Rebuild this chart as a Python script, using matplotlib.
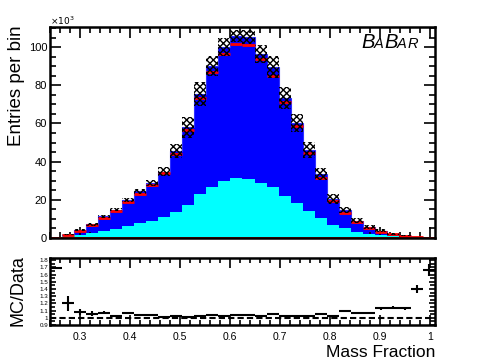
import numpy as np
import matplotlib
matplotlib.use("Agg")
import matplotlib.pyplot as plt
from matplotlib.ticker import MultipleLocator, FixedLocator, FixedFormatter

# ---------------- data (counts in units of 10^3 per bin) ----------------
bin_lo, bin_hi, n_bins = 0.24, 1.01, 32

data = [0.10, 1.5, 3.8, 6.6, 10.6, 14.3, 18.7, 23.2, 27.7, 33.9,
        43.8, 56.5, 73.1, 86.7, 96.5, 101.6, 101.0, 93.8, 84.8, 71.3,
        58.6, 44.4, 31.4, 19.6, 13.3, 8.4, 5.4, 3.3, 2.0, 1.0,
        0.4, 0.1]

mc_total = [0.17, 1.8, 4.2, 7.1, 11.4, 14.9, 20.0, 24.4, 28.9, 34.8,
            45.5, 57.9, 75.3, 90.2, 100.0, 105.9, 105.3, 96.4, 89.5, 73.4,
            60.4, 46.1, 33.5, 20.4, 14.7, 9.1, 5.9, 3.8, 2.3, 1.15,
            0.55, 0.17]

mc_syst = [0.02, 0.3, 0.5, 0.6, 0.8, 0.9, 1.0, 1.3, 1.7, 2.4,
           3.7, 5.7, 6.3, 5.2, 4.5, 3.0, 3.5, 4.7, 5.8, 5.7,
           4.8, 4.2, 3.0, 2.6, 1.7, 1.3, 1.0, 0.8, 0.5, 0.3,
           0.2, 0.05]

cyan_comp = [0.05, 0.8, 1.4, 2.4, 3.7, 4.8, 6.1, 7.8, 9.1, 10.8,
             13.8, 17.5, 22.8, 26.9, 29.8, 31.6, 31.0, 28.8, 26.9, 21.9,
             18.2, 14.1, 10.3, 6.8, 5.0, 3.3, 2.1, 1.4, 0.9, 0.5,
             0.2, 0.05]

other_comp = [0.0, 0.3, 0.4, 0.5, 0.5, 0.5, 0.6, 0.6, 0.6, 0.6,
              0.6, 0.6, 0.6, 0.6, 0.6, 0.6, 0.6, 0.6, 0.6, 0.6,
              0.6, 0.6, 0.5, 0.5, 0.5, 0.4, 0.4, 0.3, 0.3, 0.2,
              0.1, 0.0]

ratio = [1.69, 1.20, 1.085, 1.053, 1.07, 1.03, 1.06, 1.043, 1.035, 1.015,
         1.03, 1.015, 1.025, 1.035, 1.03, 1.035, 1.035, 1.02, 1.05, 1.025,
         1.025, 1.03, 1.057, 1.03, 1.10, 1.07, 1.07, 1.13, 1.14, 1.13,
         1.40, 1.66]

ratio_err = [0.0, 0.10, 0.04, 0.035, 0.02, 0.01, 0.01, 0.008, 0.006, 0.006,
             0.005, 0.005, 0.004, 0.004, 0.004, 0.004, 0.004, 0.004, 0.004, 0.005,
             0.005, 0.006, 0.008, 0.01, 0.01, 0.012, 0.015, 0.015, 0.02, 0.02,
             0.06, 0.08]

ratio_ticks = [0.9, 1.0, 1.1, 1.2, 1.3, 1.4, 1.5, 1.6, 1.7, 1.8]
ratio_ticklabels = ["0.9", "1", "1.1", "1.2", "1.3", "1.4", "1.5", "1.6", "1.7", "1.8"]
x_ticks = [0.3, 0.4, 0.5, 0.6, 0.7, 0.8, 0.9, 1.0]
x_ticklabels = ["0.3", "0.4", "0.5", "0.6", "0.7", "0.8", "0.9", "1"]
y_ticks = [0, 20, 40, 60, 80, 100]

# ---------------- figure ----------------
plt.rcParams['font.family'] = ['Liberation Sans', 'DejaVu Sans']
plt.rcParams['hatch.linewidth'] = 1.0

W, H = 485, 360
fig = plt.figure(figsize=(W / 100, H / 100), dpi=100)

def fx(px):
    return px / W

def fy(py):
    return 1 - py / H

ax = fig.add_axes([fx(50), fy(238), fx(385), 211 / H])
axr = fig.add_axes([fx(50), fy(325), fx(385), 67 / H])

edges = np.linspace(bin_lo, bin_hi, n_bins + 1)
centers = 0.5 * (edges[:-1] + edges[1:])
bw = edges[1] - edges[0]
data = np.array(data)
mc_total = np.array(mc_total)
mc_syst = np.array(mc_syst)

# stacked MC
ax.stairs(mc_total, edges, fill=True, color='#0000ff', zorder=1)
ax.stairs(mc_total, edges, color='#3030ff', lw=0.8, zorder=1.1)
ax.stairs(cyan_comp, edges, fill=True, color='#00ffff', zorder=2)
ax.stairs(other_comp, edges, fill=True, color='#ff66cc', zorder=3)
ax.stairs(other_comp, edges, color='#c8e000', lw=0.7, zorder=3.1)

# data
ax.hlines(data, edges[:-1], edges[1:], colors='red', lw=2.0, zorder=4)
ax.axhline(0, color='#c00000', lw=2.0, zorder=4)

# syst band on MC
ax.bar(centers, 2 * mc_syst, bottom=mc_total - mc_syst, width=bw,
       facecolor='none', edgecolor='black', hatch='xxxxx', linewidth=0, zorder=5)

ax.set_xlim(bin_lo, bin_hi)
ax.set_ylim(0, 110.5)

for a in (ax, axr):
    for s in a.spines.values():
        s.set_linewidth(1.8)
        s.set_zorder(10)

ax.yaxis.set_major_locator(FixedLocator(y_ticks))
ax.yaxis.set_minor_locator(MultipleLocator(5))
ax.xaxis.set_major_locator(FixedLocator(x_ticks))
ax.xaxis.set_minor_locator(MultipleLocator(0.02))
ax.tick_params(which='both', direction='in', top=True, right=True,
               labelbottom=False, width=1.2)
ax.tick_params(which='major', length=8)
ax.tick_params(which='minor', length=4.5)
ax.tick_params(axis='y', labelsize=8, pad=2)

fig.text(fx(50), fy(25), r'$\times10^{3}$', fontsize=6.5, ha='left', va='baseline')

# axis titles
fig.text(fx(17), fy(25), 'Entries per bin', rotation=90, ha='center', va='top',
         fontsize=13.5)
fig.text(fx(18), fy(255), 'MC/Data', rotation=90, ha='center', va='top',
         fontsize=13)
fig.text(fx(435), fy(357), 'Mass Fraction', ha='right', va='baseline',
         fontsize=12.5)

# BaBar logo
logo = [('B', 361, 14.5), ('A', 374, 10.5), ('B', 384, 14.5), ('A', 397, 10.5), ('R', 407.5, 10.5)]
for ch, px, fs in logo:
    fig.text(fx(px), fy(48), ch, fontsize=fs, style='italic', ha='left',
             va='baseline')

# ---------------- ratio panel ----------------
axr.axhline(1.0, color='black', lw=1.5, ls=(0, (3, 1.5)), zorder=2)
axr.errorbar(centers, ratio, xerr=bw / 2, yerr=ratio_err, fmt='none',
             ecolor='black', elinewidth=1.5, capsize=0, zorder=11, clip_on=False)
axr.set_xlim(bin_lo, bin_hi)
axr.set_ylim(0.9, 1.83)
axr.xaxis.set_major_locator(FixedLocator(x_ticks))
axr.xaxis.set_major_formatter(FixedFormatter(x_ticklabels))
axr.xaxis.set_minor_locator(MultipleLocator(0.02))
axr.yaxis.set_major_locator(FixedLocator(ratio_ticks))
axr.yaxis.set_major_formatter(FixedFormatter(ratio_ticklabels))
axr.yaxis.set_minor_locator(MultipleLocator(0.05))
axr.tick_params(which='both', direction='in', top=True, right=True, width=1.2)
axr.tick_params(which='major', length=7)
axr.tick_params(which='minor', length=3.5)
axr.tick_params(axis='x', labelsize=7.5, pad=5)
axr.tick_params(axis='y', labelsize=4.5, pad=1.5, length=4)

fig.savefig('out.png', dpi=100)
